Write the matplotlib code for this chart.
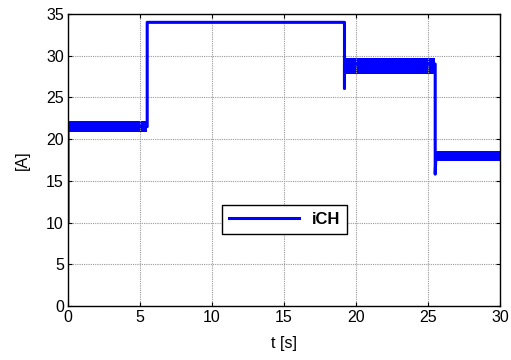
import matplotlib
matplotlib.use("Agg")
import matplotlib.pyplot as plt

plt.rcParams['font.family'] = ['Liberation Sans', 'DejaVu Sans']

# Main current trace (step changes with transients)
t_trace = [0.0, 0.0, 5.5, 5.5, 19.2, 19.2, 19.2, 19.3, 25.5, 25.5, 25.55, 30.0]
i_trace = [10.0, 21.5, 21.5, 34.0, 34.0, 26.1, 29.0, 29.0, 29.0, 15.8, 18.0, 18.0]

# Ripple bands (min/max envelope of the noisy segments)
band_t0 = [0.0, 19.2, 25.55]
band_t1 = [5.5, 25.5, 30.0]
band_low = [20.9, 27.8, 17.4]
band_high = [22.2, 29.7, 18.6]

xticks = [0, 5, 10, 15, 20, 25, 30]
yticks = [0, 5, 10, 15, 20, 25, 30, 35]

fig = plt.figure(figsize=(5.11, 3.6), dpi=100)
ax = fig.add_axes([68/511, 1-306/360, 432/511, 292/360])

blue = '#0000ff'
line, = ax.plot(t_trace, i_trace, color=blue, lw=2.2, label='iCH')
for a, b, lo, hi in zip(band_t0, band_t1, band_low, band_high):
    ax.fill_between([a, b], [lo, lo], [hi, hi], color=blue, lw=0)

ax.set_xlim(0, 30)
ax.set_ylim(0, 35)
ax.set_xticks(xticks)
ax.set_yticks(yticks)
ax.tick_params(direction='in', top=True, right=True, labelsize=11.5, length=3, width=0.8, pad=3)
ax.grid(True, color='#999999', linestyle=(0, (1, 1)), linewidth=0.8)
for s in ax.spines.values():
    s.set_linewidth(1.0)

ax.set_xlabel('t [s]', fontsize=11.5, labelpad=8)
ax.set_ylabel('[A]', fontsize=11.5, labelpad=12)

leg = ax.legend(handles=[line], loc='center', bbox_to_anchor=(0.359, 0.24, 0.285, 0.113),
                frameon=True, fancybox=False, edgecolor='black', framealpha=1,
                prop={'weight': 'bold', 'size': 12}, handlelength=4.2, borderpad=0.4,
                handletextpad=0.8)
leg.get_frame().set_linewidth(1.0)

fig.savefig('out.png', dpi=100)
